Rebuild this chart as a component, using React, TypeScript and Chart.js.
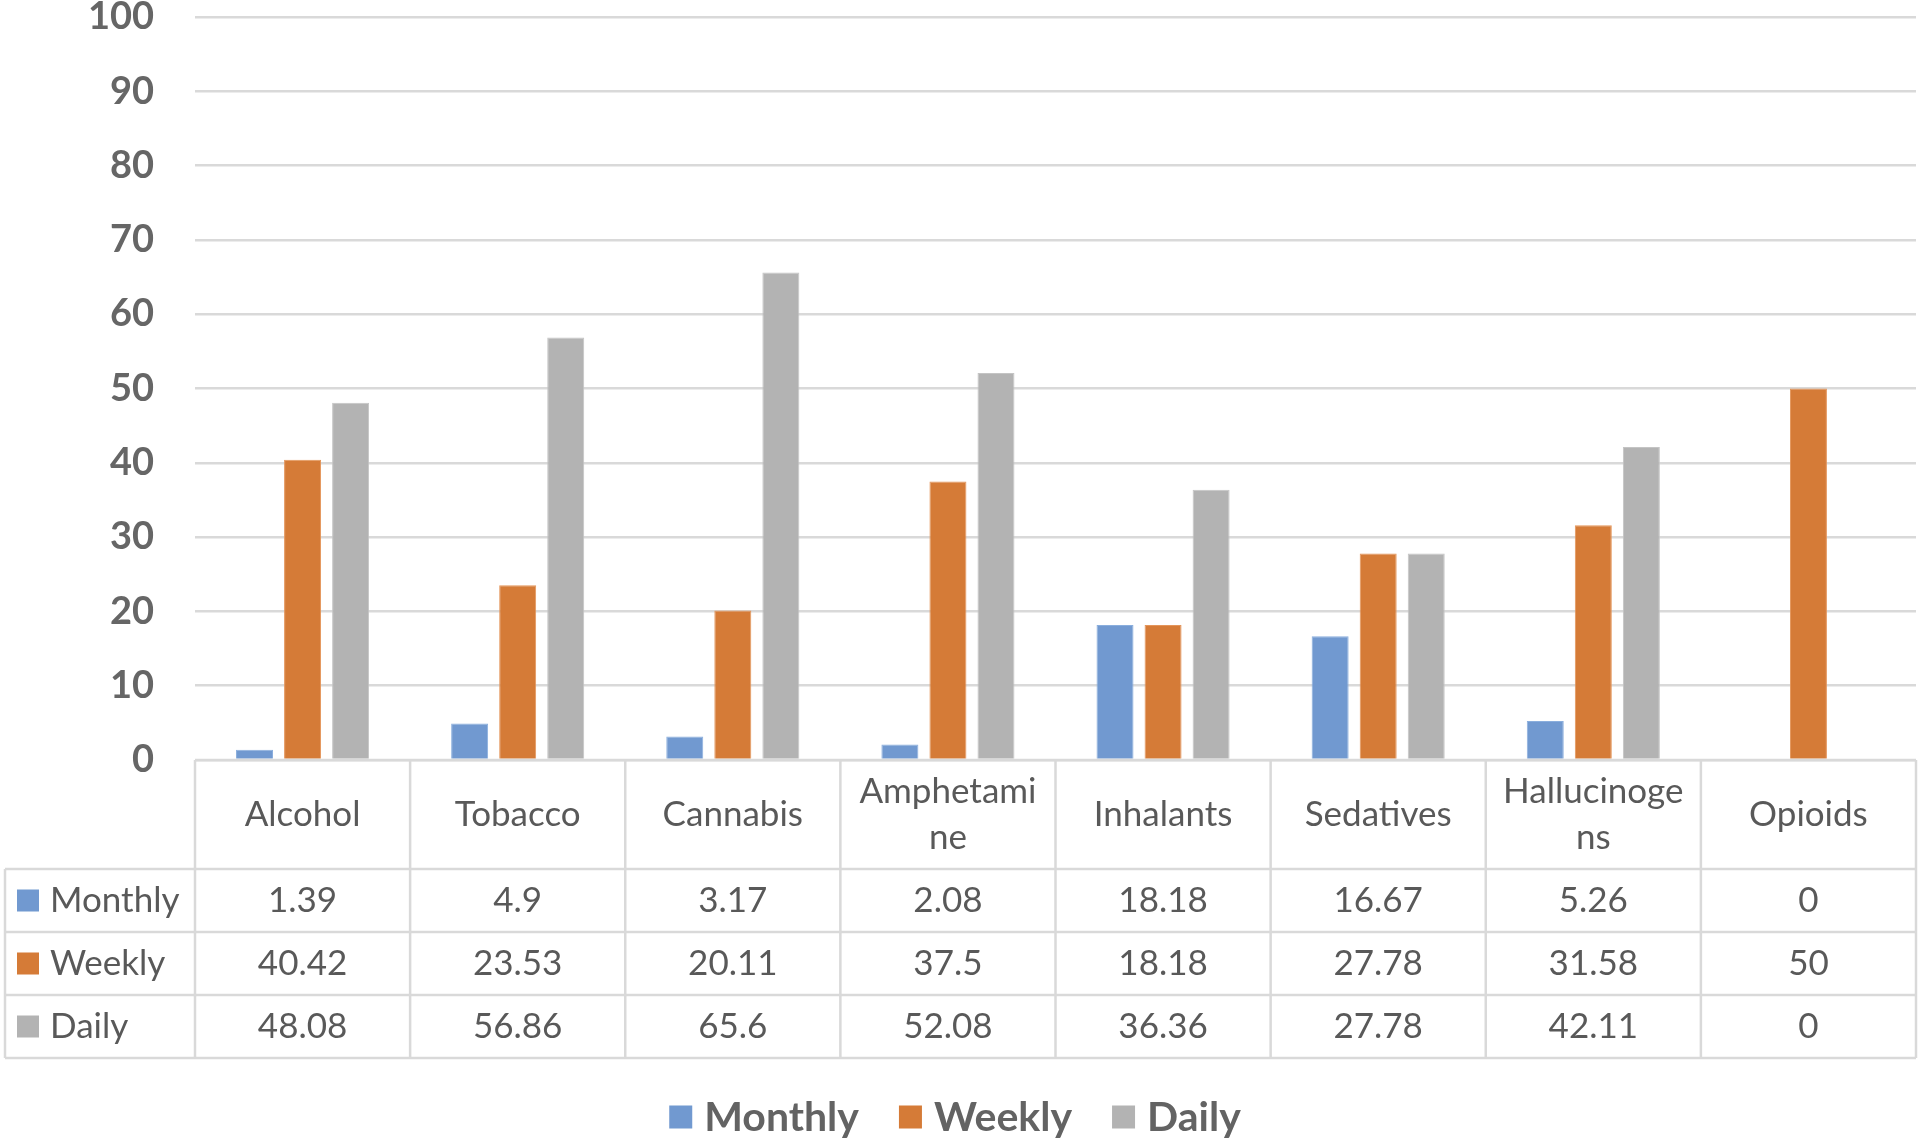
import React, { useEffect, useRef } from "react";
import { Chart, registerables } from "chart.js";
Chart.register(...registerables);

const categories = ["Alcohol", "Tobacco", "Cannabis", "Amphetamine", "Inhalants", "Sedatives", "Hallucinogens", "Opioids"];
const headerLines = [["Alcohol"], ["Tobacco"], ["Cannabis"], ["Amphetami", "ne"], ["Inhalants"], ["Sedatives"], ["Hallucinoge", "ns"], ["Opioids"]];
const seriesNames = ["Monthly", "Weekly", "Daily"];
const monthly = [1.39, 4.9, 3.17, 2.08, 18.18, 16.67, 5.26, 0];
const weekly = [40.42, 23.53, 20.11, 37.5, 18.18, 27.78, 31.58, 50];
const daily = [48.08, 56.86, 65.6, 52.08, 36.36, 27.78, 42.11, 0];
const yMax = 100;
const yStep = 10;

const colors = ["#7199D0", "#D57B37", "#B3B3B3"];
const borderColors = ["#8AAEDD", "#E4955A", "#C4C4C4"];
const FONT = "Lato, 'Open Sans', sans-serif";

const tablePlugin = {
  id: "dataTable",
  afterDraw(chart: any) {
    const ctx = chart.ctx as CanvasRenderingContext2D;
    const area = chart.chartArea;
    const n = categories.length;
    const colW = (area.right - area.left) / n;
    const top = area.bottom;
    const headerH = 109;
    const rowH = 63;
    const labelLeft = 5;
    const rowsTop = top + headerH;
    const bottom = rowsTop + rowH * 3;
    const data = [monthly, weekly, daily];

    ctx.save();
    ctx.strokeStyle = "#D9D9D9";
    ctx.lineWidth = 2.5;
    ctx.beginPath();
    ctx.moveTo(area.left, top);
    ctx.lineTo(area.right, top);
    for (let r = 0; r <= 3; r++) {
      const y = rowsTop + r * rowH;
      ctx.moveTo(labelLeft, y);
      ctx.lineTo(area.right, y);
    }
    for (let i = 0; i <= n; i++) {
      const x = area.left + i * colW;
      ctx.moveTo(x, top);
      ctx.lineTo(x, bottom);
    }
    ctx.moveTo(labelLeft, rowsTop);
    ctx.lineTo(labelLeft, bottom);
    ctx.stroke();

    ctx.fillStyle = "#595959";
    ctx.font = `35px ${FONT}`;
    ctx.textAlign = "center";
    ctx.textBaseline = "middle";
    const lineGap = 46;
    headerLines.forEach((lines, i) => {
      const cx = area.left + (i + 0.5) * colW;
      const cy = top + headerH / 2;
      const y0 = cy - ((lines.length - 1) * lineGap) / 2;
      lines.forEach((t, k) => ctx.fillText(t, cx, y0 + k * lineGap));
    });

    for (let r = 0; r < 3; r++) {
      const cy = rowsTop + r * rowH + rowH / 2;
      ctx.fillStyle = colors[r];
      ctx.fillRect(17, cy - 11, 22, 22);
      ctx.fillStyle = "#595959";
      ctx.textAlign = "left";
      ctx.fillText(seriesNames[r], 50, cy);
      ctx.textAlign = "center";
      data[r].forEach((v, i) => {
        ctx.fillText(String(v), area.left + (i + 0.5) * colW, cy);
      });
    }

    // legend
    ctx.font = `bold 41px ${FONT}`;
    const sq = 23, gapSqText = 12, gapItems = 40;
    const widths = seriesNames.map((s) => ctx.measureText(s).width);
    const total = widths.reduce((a, w) => a + sq + gapSqText + w, 0) + gapItems * (seriesNames.length - 1);
    let x = 955 - total / 2;
    const ly = 1117;
    seriesNames.forEach((s, k) => {
      ctx.fillStyle = colors[k];
      ctx.fillRect(x, ly - sq / 2, sq, sq);
      x += sq + gapSqText;
      ctx.fillStyle = "#636363";
      ctx.textAlign = "left";
      ctx.fillText(s, x, ly + 1);
      x += widths[k] + gapItems;
    });
    ctx.restore();
  },
};

export default function App() {
  const ref = useRef<HTMLCanvasElement>(null);
  useEffect(() => {
    document.body.style.margin = "0";
    const chart = new Chart(ref.current!, {
      type: "bar",
      data: {
        labels: categories,
        datasets: [monthly, weekly, daily].map((d, k) => ({
          label: seriesNames[k],
          data: d,
          backgroundColor: colors[k],
          borderColor: borderColors[k],
          borderWidth: 1,
          categoryPercentage: 0.67,
          barPercentage: 0.77,
        })),
      },
      options: {
        responsive: false,
        animation: false,
        layout: { padding: { top: 17, bottom: 381, right: 4, left: 0 } },
        plugins: { legend: { display: false }, tooltip: { enabled: false } },
        scales: {
          x: { display: false },
          y: {
            min: 0,
            max: yMax,
            border: { display: false },
            grid: { color: "#D9D9D9", lineWidth: 2.5, drawTicks: false },
            ticks: {
              stepSize: yStep,
              padding: 41,
              color: "#666666",
              font: { family: FONT, size: 38, weight: "bold" },
            },
            afterFit(scale: any) {
              scale.width = 195;
              scale.paddingTop = 0;
              scale.paddingBottom = 0;
            },
          },
        },
      },
      plugins: [tablePlugin],
    });
    return () => chart.destroy();
  }, []);
  return (
    <div style={{ width: 1920, height: 1141 }}>
      <canvas ref={ref} width={1920} height={1141} />
    </div>
  );
}
